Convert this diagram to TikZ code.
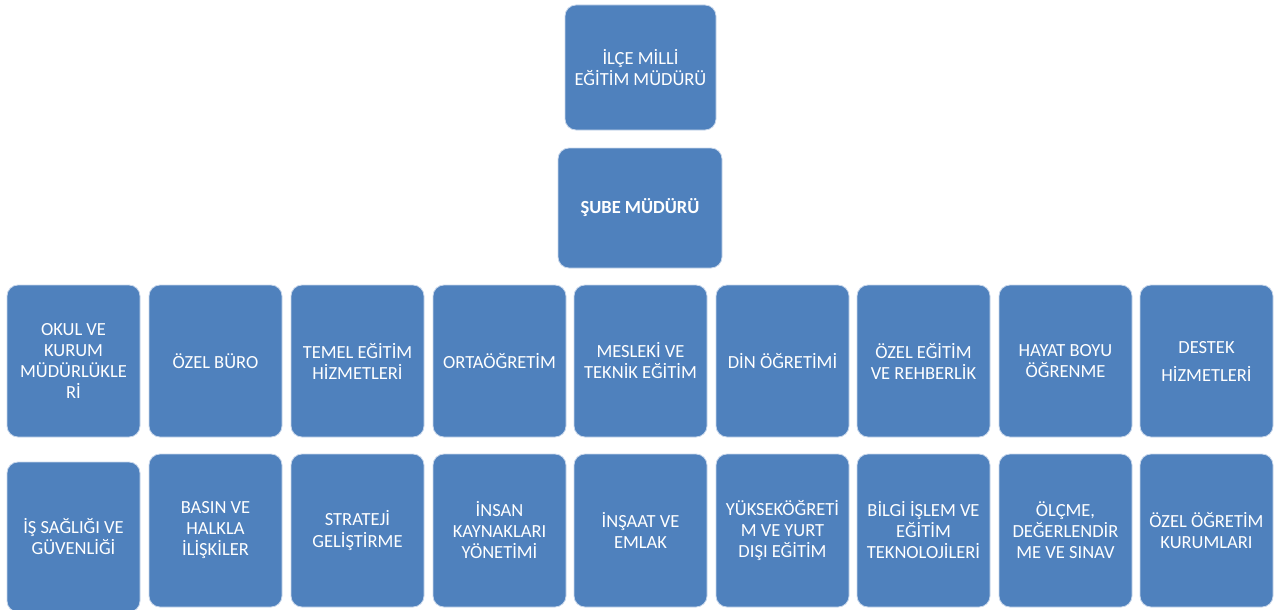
\documentclass[tikz,border=0pt]{standalone}
\usepackage{fontspec}
\setmainfont{Carlito}
\definecolor{boxblue}{RGB}{79,129,189}
\definecolor{boxedge}{RGB}{200,215,235}
\begin{document}
\begin{tikzpicture}[x=1pt,y=1pt,
  orgbox/.style={draw=boxedge, line width=0.8pt, fill=boxblue, rounded corners=11pt,
    text=white, align=center, inner sep=1pt,
    font=\fontsize{18.5}{21}\selectfont},
  rowbox/.style={orgbox, minimum width=133pt, minimum height=152pt}]
\useasboundingbox (0,0) rectangle (1287,-610);
% top
\node[orgbox, minimum width=151pt, minimum height=125pt] (mudur) at (640.5,-67.5) {İLÇE MİLLİ\\EĞİTİM MÜDÜRÜ};
\node[orgbox, minimum width=164pt, minimum height=120pt, font=\fontsize{18.5}{21}\selectfont\bfseries] (sube) at (640,-208) {ŞUBE MÜDÜRÜ};
% row 1
\node[rowbox] (r1a) at (73.5,-361) {OKUL VE\\KURUM\\MÜDÜRLÜKLE\\Rİ};
\node[rowbox] (r1b) at (215.5,-361) {ÖZEL BÜRO};
\node[rowbox] (r1c) at (357.5,-361) {TEMEL EĞİTİM\\HİZMETLERİ};
\node[rowbox] (r1d) at (499.5,-361) {ORTAÖĞRETİM};
\node[rowbox] (r1e) at (640.5,-361) {MESLEKİ VE\\TEKNİK EĞİTİM};
\node[rowbox] (r1f) at (782.5,-361) {DİN ÖĞRETİMİ};
\node[rowbox] (r1g) at (923.5,-361) {ÖZEL EĞİTİM\\VE REHBERLİK};
\node[rowbox] (r1h) at (1065.5,-361) {HAYAT BOYU\\ÖĞRENME};
\node[rowbox] (r1i) at (1206.5,-361) {DESTEK\\[7pt]HİZMETLERİ};
% row 2
\node[rowbox, minimum height=150pt] (r2a) at (73.5,-537) {İŞ SAĞLIĞI VE\\GÜVENLİĞİ};
\node[rowbox, minimum height=153pt] (r2b) at (215.5,-530.5) {BASIN VE\\HALKLA\\İLİŞKİLER};
\node[rowbox, minimum height=153pt] (r2c) at (357.5,-530.5) {STRATEJİ\\GELİŞTİRME};
\node[rowbox, minimum height=153pt] (r2d) at (499.5,-530.5) {İNSAN\\KAYNAKLARI\\YÖNETİMİ};
\node[rowbox, minimum height=153pt] (r2e) at (640.5,-530.5) {İNŞAAT VE\\EMLAK};
\node[rowbox, minimum height=153pt] (r2f) at (782.5,-530.5) {YÜKSEKÖĞRETİ\\M VE YURT\\DIŞI EĞİTİM};
\node[rowbox, minimum height=153pt] (r2g) at (923.5,-530.5) {BİLGİ İŞLEM VE\\EĞİTİM\\TEKNOLOJİLERİ};
\node[rowbox, minimum height=153pt] (r2h) at (1065.5,-530.5) {ÖLÇME,\\DEĞERLENDİR\\ME VE SINAV};
\node[rowbox, minimum height=153pt] (r2i) at (1206.5,-530.5) {ÖZEL ÖĞRETİM\\KURUMLARI};
\end{tikzpicture}
\end{document}
